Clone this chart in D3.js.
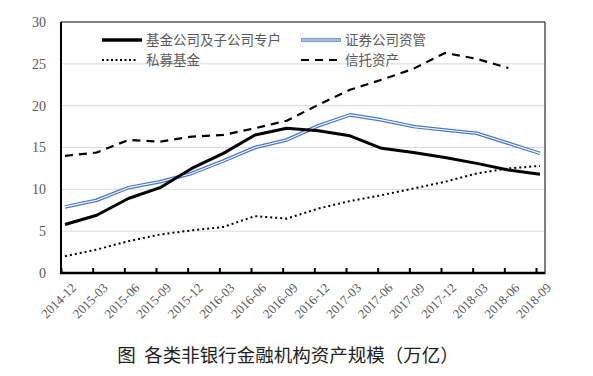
<!DOCTYPE html>
<html>
<head>
<meta charset="utf-8">
<script src="https://cdn.jsdelivr.net/npm/d3@7"></script>
<style>
  body { margin: 0; background: #fff; }
  svg { display: block; }
</style>
</head>
<body>
<svg id="chart"></svg>
<script>
// Categories (quarters)
const quarters = ["2014-12", "2015-03", "2015-06", "2015-09", "2015-12", "2016-03", "2016-06", "2016-09",
  "2016-12", "2017-03", "2017-06", "2017-09", "2017-12", "2018-03", "2018-06", "2018-09"];

// Series values (万亿)
const fundCompany = [5.8, 6.9, 8.9, 10.2, 12.5, 14.3, 16.5, 17.3, 17.0, 16.4, 14.9, 14.4, 13.8, 13.1, 12.3, 11.8];
const securities = [7.9, 8.7, 10.2, 10.9, 11.9, 13.4, 15.0, 15.9, 17.6, 18.9, 18.3, 17.5, 17.1, 16.7, 15.5, 14.3];
const privateFund = [2.0, 2.8, 3.8, 4.6, 5.1, 5.5, 6.8, 6.5, 7.7, 8.6, 9.3, 10.1, 10.9, 11.9, 12.5, 12.8];
const trust = [14.0, 14.4, 15.9, 15.7, 16.3, 16.5, 17.3, 18.2, 20.1, 21.9, 23.1, 24.4, 26.3, 25.6, 24.5, null];

const yTicks = [0, 5, 10, 15, 20, 25, 30];
const title = "图  各类非银行金融机构资产规模（万亿）";

const W = 593, H = 376;
const margin = { top: 22, right: 48, bottom: 103, left: 61 };
const width = W - margin.left - margin.right;
const height = H - margin.top - margin.bottom;

const svg = d3.select("#chart").attr("width", W).attr("height", H);
const g = svg.append("g").attr("transform", `translate(${margin.left},${margin.top})`);

const x = d3.scalePoint().domain(quarters).range([4, width - 5]);
const y = d3.scaleLinear().domain([0, 30]).range([height, 0]);

const grey = "#595959";

// Gridlines
g.selectAll(".grid").data(yTicks.filter(d => d > 0 && d < 30)).enter()
  .append("line")
  .attr("x1", 0).attr("x2", width)
  .attr("y1", d => y(d)).attr("y2", d => y(d))
  .attr("stroke", "#d9d9d9").attr("stroke-width", 1);

// Plot frame (top and right thin)
g.append("line").attr("x1", 0).attr("x2", width).attr("y1", 0).attr("y2", 0)
  .attr("stroke", "#000").attr("stroke-width", 1);
g.append("line").attr("x1", width).attr("x2", width).attr("y1", 0).attr("y2", height)
  .attr("stroke", "#000").attr("stroke-width", 1);

// Y axis labels
const yAxis = g.append("g")
  .call(d3.axisLeft(y).tickValues(yTicks).tickSize(0).tickPadding(15));
yAxis.select(".domain").remove();
yAxis.selectAll("text")
  .attr("fill", grey)
  .style("font-family", "'Liberation Serif', 'Times New Roman', serif")
  .style("font-size", "14px");

// Left axis line
g.append("line").attr("x1", 0).attr("x2", 0).attr("y1", 0).attr("y2", height)
  .attr("stroke", "#000").attr("stroke-width", 2);

// X axis (tick marks sit slightly left of the data points)
const xAxis = g.append("g")
  .attr("transform", `translate(-4,${height})`)
  .call(d3.axisBottom(x).tickSize(-5).tickSizeOuter(0));
xAxis.select(".domain").remove();
xAxis.selectAll(".tick line").attr("stroke", "#000").attr("stroke-width", 2);
xAxis.selectAll("text")
  .attr("fill", grey)
  .attr("text-anchor", "end")
  .attr("transform", "translate(10,10) rotate(-45)")
  .attr("dy", "0.6em")
  .attr("y", 0)
  .style("font-family", "'Liberation Serif', 'Times New Roman', serif")
  .style("font-size", "13px");

g.append("line").attr("x1", -1).attr("x2", width + 0.5).attr("y1", height).attr("y2", height)
  .attr("stroke", "#000").attr("stroke-width", 2.5);

// Lines
const line = d3.line()
  .defined(d => d != null)
  .x((d, i) => x(quarters[i]))
  .y(d => y(d));

g.append("path").datum(trust)
  .attr("fill", "none").attr("stroke", "#000").attr("stroke-width", 2.2)
  .attr("stroke-dasharray", "8,6").attr("d", line);

g.append("path").datum(privateFund)
  .attr("fill", "none").attr("stroke", "#000").attr("stroke-width", 2)
  .attr("stroke-dasharray", "2,3").attr("d", line);

g.append("path").datum(securities)
  .attr("fill", "none").attr("stroke", "#4a78c8").attr("stroke-width", 3.6)
  .attr("stroke-linejoin", "round").attr("d", line);
g.append("path").datum(securities)
  .attr("fill", "none").attr("stroke", "#fff").attr("stroke-width", 1.1)
  .attr("stroke-linejoin", "round").attr("d", line);

g.append("path").datum(fundCompany)
  .attr("fill", "none").attr("stroke", "#000").attr("stroke-width", 3)
  .attr("stroke-linejoin", "round").attr("d", line);

// Legend
const legendItems = [
  { name: "基金公司及子公司专户", x: 41, y: 18, style: "solid" },
  { name: "证券公司资管", x: 240, y: 18, style: "blue" },
  { name: "私募基金", x: 41, y: 38, style: "dotted" },
  { name: "信托资产", x: 240, y: 38, style: "dashed" }
];
const leg = g.append("g");
legendItems.forEach(item => {
  const row = leg.append("g").attr("transform", `translate(${item.x},${item.y})`);
  if (item.style === "blue") {
    row.append("line").attr("x1", 0).attr("x2", 40).attr("stroke", "#4a78c8").attr("stroke-width", 3.6);
    row.append("line").attr("x1", 0.5).attr("x2", 39.5).attr("stroke", "#fff").attr("stroke-width", 1.1);
  } else {
    row.append("line").attr("x1", 0).attr("x2", item.style === "dotted" ? 36 : 40)
      .attr("stroke", "#000")
      .attr("stroke-width", item.style === "solid" ? 3.5 : 2.2)
      .attr("stroke-dasharray", item.style === "dotted" ? "2,2.5" : item.style === "dashed" ? "8,6" : null);
  }
  row.append("text")
    .attr("x", 44).attr("y", 0).attr("dy", "0.35em")
    .attr("fill", grey)
    .style("font-family", "'Noto Sans CJK SC', sans-serif")
    .style("font-size", "13.5px")
    .text(item.name);
});

// Title
svg.append("text")
  .attr("x", 288).attr("y", 362)
  .attr("text-anchor", "middle")
  .attr("fill", "#222")
  .style("font-family", "'Noto Sans CJK SC', sans-serif")
  .style("font-size", "18.5px")
  .style("white-space", "pre")
  .text(title);
</script>
</body>
</html>
